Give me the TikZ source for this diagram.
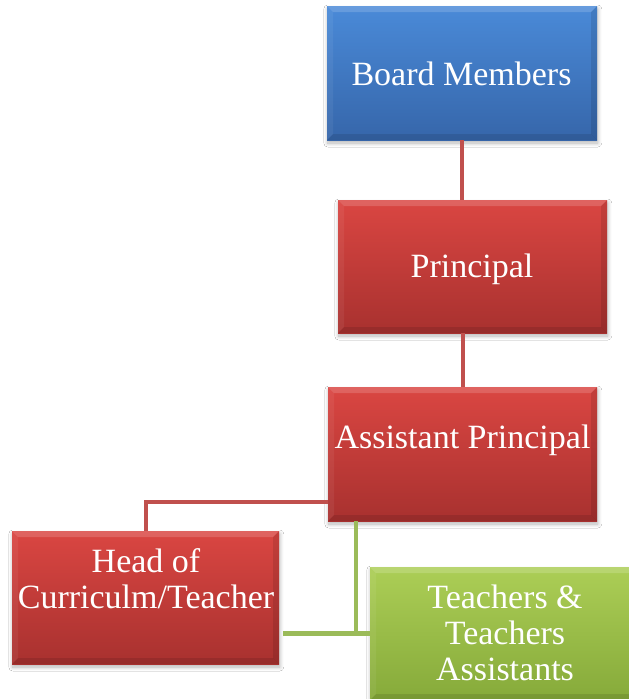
\documentclass[tikz,border=0pt]{standalone}
\usepackage{fontspec}
\setmainfont{Liberation Serif}
\usetikzlibrary{shadows.blur,calc}
\definecolor{bluetop}{RGB}{74,138,216}
\definecolor{bluebot}{RGB}{54,102,170}
\definecolor{redtop}{RGB}{218,70,66}
\definecolor{redbot}{RGB}{168,49,47}
\definecolor{greentop}{RGB}{172,206,86}
\definecolor{greenbot}{RGB}{134,170,58}
\definecolor{redline}{RGB}{192,80,77}
\definecolor{greenline}{RGB}{155,187,89}
\tikzset{
  box/.style={rectangle, minimum width=269pt, minimum height=133pt, inner sep=0pt,
    blur shadow={shadow xshift=0.8pt, shadow yshift=-3pt, shadow blur steps=8, shadow blur radius=4pt, shadow opacity=30},
    path picture={
      \fill[white,opacity=.16] (path picture bounding box.north west) -- (path picture bounding box.north east)
        -- ([xshift=-6pt,yshift=-6pt]path picture bounding box.north east) -- ([xshift=6pt,yshift=-6pt]path picture bounding box.north west) -- cycle;
      \fill[white,opacity=.06] (path picture bounding box.north west) -- (path picture bounding box.south west)
        -- ([xshift=6pt,yshift=6pt]path picture bounding box.south west) -- ([xshift=6pt,yshift=-6pt]path picture bounding box.north west) -- cycle;
      \fill[black,opacity=.10] (path picture bounding box.north east) -- (path picture bounding box.south east)
        -- ([xshift=-6pt,yshift=6pt]path picture bounding box.south east) -- ([xshift=-6pt,yshift=-6pt]path picture bounding box.north east) -- cycle;
      \fill[black,opacity=.10] (path picture bounding box.south west) -- (path picture bounding box.south east)
        -- ([xshift=-6pt,yshift=6pt]path picture bounding box.south east) -- ([xshift=6pt,yshift=6pt]path picture bounding box.south west) -- cycle;
    }},
  bluebox/.style={box, top color=bluetop, bottom color=bluebot},
  redbox/.style={box, top color=redtop, bottom color=redbot},
  greenbox/.style={box, top color=greentop, bottom color=greenbot},
  txt/.style={text=white, font=\fontsize{34}{36}\selectfont, align=center, inner sep=0pt, anchor=base},
  redconn/.style={draw=redline, line width=4pt},
  greenconn/.style={draw=greenline, line width=4.5pt},
}
\begin{document}
\begin{tikzpicture}[x=1pt,y=-1pt]
\useasboundingbox[fill=white] (0,0) rectangle (629,699);
\node[bluebox, minimum width=270pt, minimum height=134pt] (bm) at (462,73) {};
\node[redbox] (pr) at (472.5,266.5) {};
\node[redbox, minimum height=134pt] (ap) at (462.5,454) {};
\node[redbox, minimum width=267pt] (hc) at (145.5,597.5) {};
\node[greenbox] (tt) at (504.5,633.5) {};
\draw[redconn] (bm.south) -- (bm.south |- pr.north);
\draw[redconn] (ap.north) -- (ap.north |- pr.south);
\draw[redconn] ([yshift=-48pt]ap.west) -| (hc.north);
\coordinate (gj) at ([xshift=28pt]ap.south west |- tt.west);
\draw[greenconn] ([xshift=28pt]ap.south west) -- (gj);
\draw[greenconn] ([xshift=4pt]hc.east |- gj) -- (tt.west);
% texts
\node[txt] (bmt) at (461.5,85) {Board Members};
\node[txt] (prt) at (472,277) {Principal};
\node[txt] (apt) at (462.5,448) {Assistant Principal};
\node[txt] (hct) at (146,608) {Head of\\Curriculm/Teacher};
\node[txt] (ttt) at (505,680) {Teachers \&\\Teachers\\Assistants};
\end{tikzpicture}
\end{document}
